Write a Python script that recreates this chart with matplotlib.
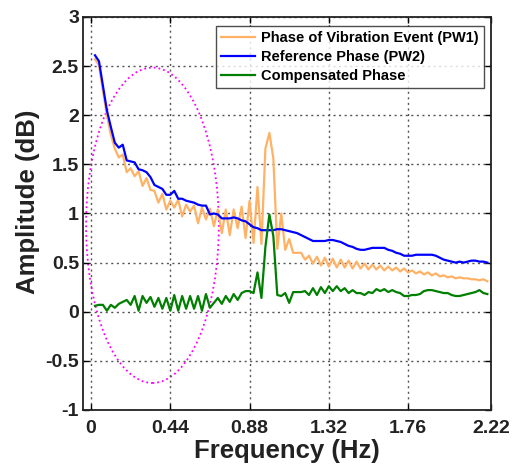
import numpy as np
import matplotlib
matplotlib.use("Agg")
import matplotlib.pyplot as plt
from matplotlib.patches import Ellipse

plt.rcParams['font.family'] = ['Liberation Sans', 'DejaVu Sans']
plt.rcParams['axes.unicode_minus'] = False

# frequency bins (Hz)
freq = 0.022 * np.arange(1, 101)

# Phase of Vibration Event (PW1)
pw1 = [2.57, 2.51, 2.25, 2.00, 1.80, 1.66, 1.57, 1.60, 1.42, 1.46,
       1.38, 1.43, 1.28, 1.36, 1.24, 1.23, 1.11, 1.20, 1.04, 1.13,
       1.06, 1.14, 0.97, 1.09, 1.02, 1.08, 0.90, 1.06, 0.94, 1.05,
       0.87, 1.04, 0.80, 1.04, 0.78, 1.04, 0.85, 1.07, 0.75, 1.13,
       0.70, 1.27, 0.69, 1.66, 1.82, 1.56, 0.64, 1.00, 0.63, 0.74,
       0.60, 0.60, 0.60, 0.53, 0.57, 0.49, 0.56, 0.47, 0.55, 0.46,
       0.54, 0.45, 0.53, 0.45, 0.52, 0.44, 0.51, 0.44, 0.49, 0.43,
       0.48, 0.43, 0.47, 0.42, 0.46, 0.42, 0.45, 0.41, 0.44, 0.40,
       0.42, 0.39, 0.41, 0.38, 0.40, 0.37, 0.39, 0.36, 0.37, 0.35,
       0.36, 0.34, 0.35, 0.34, 0.34, 0.33, 0.33, 0.32, 0.33, 0.31]

# Reference Phase (PW2)
pw2 = [2.61, 2.55, 2.30, 2.05, 1.88, 1.72, 1.67, 1.70, 1.54, 1.53,
       1.52, 1.45, 1.44, 1.42, 1.37, 1.29, 1.27, 1.25, 1.19, 1.19,
       1.23, 1.15, 1.15, 1.13, 1.12, 1.11, 1.09, 1.08, 1.08, 0.99,
       1.00, 0.99, 0.95, 0.95, 0.95, 0.96, 0.95, 0.93, 0.92, 0.89,
       0.86, 0.85, 0.83, 0.83, 0.83, 0.83, 0.84, 0.84, 0.83, 0.82,
       0.81, 0.80, 0.78, 0.76, 0.74, 0.72, 0.72, 0.72, 0.72, 0.73,
       0.73, 0.72, 0.71, 0.69, 0.67, 0.66, 0.64, 0.63, 0.63, 0.64,
       0.65, 0.65, 0.65, 0.65, 0.63, 0.62, 0.60, 0.59, 0.57, 0.57,
       0.57, 0.58, 0.58, 0.58, 0.58, 0.58, 0.57, 0.55, 0.53, 0.52,
       0.51, 0.50, 0.51, 0.50, 0.51, 0.52, 0.52, 0.51, 0.51, 0.50]

# Compensated Phase
comp = [0.06, 0.07, 0.07, 0.01, 0.07, 0.04, 0.08, 0.10, 0.12, 0.07,
        0.16, 0.01, 0.16, 0.09, 0.15, 0.05, 0.14, 0.03, 0.14, 0.01,
        0.17, 0.01, 0.16, 0.03, 0.16, 0.03, 0.16, 0.01, 0.18, 0.04,
        0.09, 0.14, 0.08, 0.16, 0.10, 0.18, 0.12, 0.19, 0.21, 0.21,
        0.19, 0.40, 0.14, 0.66, 0.99, 0.77, 0.17, 0.16, 0.19, 0.09,
        0.20, 0.20, 0.20, 0.21, 0.17, 0.24, 0.17, 0.25, 0.19, 0.26,
        0.21, 0.26, 0.21, 0.24, 0.19, 0.22, 0.19, 0.19, 0.17, 0.20,
        0.19, 0.23, 0.21, 0.23, 0.20, 0.22, 0.20, 0.19, 0.16, 0.16,
        0.17, 0.17, 0.18, 0.21, 0.22, 0.22, 0.21, 0.20, 0.19, 0.19,
        0.17, 0.16, 0.16, 0.17, 0.18, 0.19, 0.20, 0.22, 0.19, 0.18]

xtick_vals = [0, 0.44, 0.88, 1.32, 1.76, 2.22]
xtick_labels = ['0', '0.44', '0.88', '1.32', '1.76', '2.22']
ytick_vals = [-1, -0.5, 0, 0.5, 1, 1.5, 2, 2.5, 3]
ytick_labels = ['-1', '-0.5', '0', '0.5', '1', '1.5', '2', '2.5', '3']

fig = plt.figure(figsize=(5.13, 4.68), dpi=100)
ax = fig.add_axes([0.162, 0.124, 0.795, 0.8397])

ax.plot(freq, pw1, color='#FFB266', lw=1.6, label='Phase of Vibration Event (PW1)')
ax.plot(freq, pw2, color='#0000FF', lw=1.6, label='Reference Phase (PW2)')
ax.plot(freq, comp, color='#007F00', lw=1.6, label='Compensated Phase')

# highlighted low-frequency region
ax.add_patch(Ellipse((0.341, 0.88), 0.737, 3.21, fill=False,
                     edgecolor='#FF00FF', linestyle=':', lw=1.3))

ax.set_xlim(-0.044, 2.22)
ax.set_ylim(-1, 3)
ax.set_xticks(xtick_vals)
ax.set_xticklabels(xtick_labels)
ax.set_yticks(ytick_vals)
ax.set_yticklabels(ytick_labels)

ax.grid(True, color='#555555', linestyle=(0, (1.5, 2.5)), lw=1.0)
ax.tick_params(direction='in', top=True, right=True, length=4, width=1,
               labelsize=14)
ax.tick_params(axis='x', pad=7)
ax.tick_params(axis='y', pad=3)
for lab in ax.get_xticklabels() + ax.get_yticklabels():
    lab.set_fontweight('bold')
    lab.set_color('#222222')
for sp in ax.spines.values():
    sp.set_linewidth(1.3)
    sp.set_color('#222222')

ax.set_xlabel('Frequency (Hz)', fontsize=18.5, fontweight='bold', color='#222222', labelpad=2)
ax.set_ylabel('Amplitude (dB)', fontsize=18.5, fontweight='bold', color='#222222')
ax.yaxis.set_label_coords(-0.105, 0.53)

leg = ax.legend(loc='upper right', bbox_to_anchor=(0.982, 0.978),
                prop={'weight': 'bold', 'size': 10.5}, frameon=True, fancybox=False,
                edgecolor='#222222', handlelength=2.3, borderpad=0.35,
                labelspacing=0.36, handletextpad=0.4, borderaxespad=0)
leg.get_frame().set_linewidth(1.0)

fig.savefig('out.png', dpi=100)
